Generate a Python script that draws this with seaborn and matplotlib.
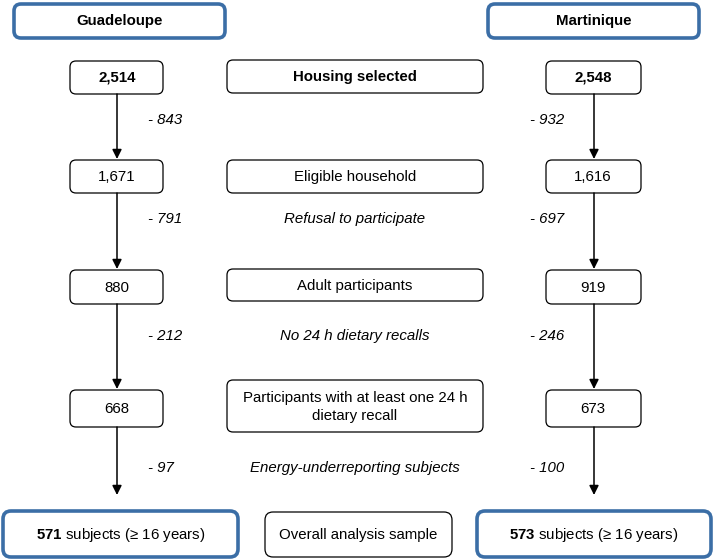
import matplotlib.pyplot as plt
import seaborn as sns
from matplotlib.patches import FancyBboxPatch

# Flowchart data
steps = ["Housing selected", "Eligible household", "Adult participants",
         "Participants with at least one 24 h\ndietary recall", "Overall analysis sample"]
guadeloupe = [2514, 1671, 880, 668, 571]
martinique = [2548, 1616, 919, 673, 573]
reasons = ["", "Refusal to participate", "No 24 h dietary recalls", "Energy-underreporting subjects"]
guadeloupe_out = [843, 791, 212, 97]
martinique_out = [932, 697, 246, 100]
regions = ["Guadeloupe", "Martinique"]

sns.set_theme(style="white")
plt.rcParams['font.family'] = ['Liberation Sans', 'DejaVu Sans']
plt.rcParams['text.color'] = 'black'
plt.rcParams['mathtext.fontset'] = 'custom'
plt.rcParams['mathtext.rm'] = 'Liberation Sans'
plt.rcParams['mathtext.bf'] = 'Liberation Sans:bold'

blue = "#3b6ea6"
fs = 10.8

fig = plt.figure(figsize=(7.13, 5.59), dpi=100)
ax = fig.add_axes([0, 0, 1, 1])
ax.set_xlim(0, 713)
ax.set_ylim(559, 0)
ax.axis("off")


def box(x0, y0, x1, y1, color="black", lw=0.9, pad=6):
    p = FancyBboxPatch((x0 + pad, y0 + pad), x1 - x0 - 2 * pad, y1 - y0 - 2 * pad,
                       boxstyle=f"round,pad={pad}", fc="white", ec=color, lw=lw)
    ax.add_patch(p)


# headers
for (x0, x1), name in zip([(14, 225), (488, 699)], regions):
    box(x0, 4, x1, 38, color=blue, lw=2.6, pad=7)
    ax.text((x0 + x1) / 2, 21.5, name, ha="center", va="center", fontsize=fs, fontweight="bold")

# row geometry (pixel positions of boxes)
rows_y = [(61, 94), (160, 193), (270, 304), (390, 427)]
mid_y = [(60, 93), (160, 193), (269, 301), (380, 432)]
gap_y = [120, 219, 336, 468]
lx, rx = 117, 594

for i in range(4):
    y0, y1 = rows_y[i]
    weight = "bold" if i == 0 else "normal"
    box(70, y0, 163, y1)
    ax.text(lx, (y0 + y1) / 2 + 0.5, f"{guadeloupe[i]:,}", ha="center", va="center",
            fontsize=fs, fontweight=weight)
    box(546, y0, 641, y1)
    ax.text(rx - 1, (y0 + y1) / 2 + 0.5, f"{martinique[i]:,}", ha="center", va="center",
            fontsize=fs, fontweight=weight)
    m0, m1 = mid_y[i]
    box(227, m0, 483, m1)
    ax.text(355, (m0 + m1) / 2 + 1, steps[i], ha="center", va="center",
            fontsize=fs, fontweight=weight, linespacing=1.3)

    # arrows down to next row
    nxt = rows_y[i + 1][0] - 1 if i < 3 else 495
    for x in (lx, rx):
        ax.annotate("", xy=(x, nxt), xytext=(x, y1),
                    arrowprops=dict(arrowstyle="-|>", color="black", lw=1.1,
                                    mutation_scale=14, shrinkA=0, shrinkB=0))
    gy = gap_y[i]
    ax.text(148, gy, f"- {guadeloupe_out[i]}", ha="left", va="center", fontsize=fs, style="italic")
    ax.text(564, gy, f"- {martinique_out[i]}", ha="right", va="center", fontsize=fs, style="italic")
    if reasons[i]:
        ax.text(355, gy, reasons[i], ha="center", va="center", fontsize=fs, style="italic")

# final sample row
for (x0, x1), n in zip([(3, 238), (477, 711)], [guadeloupe[4], martinique[4]]):
    box(x0, 511, x1, 557, color=blue, lw=2.6, pad=8)
    cx = (x0 + x1) / 2
    ax.text(cx, 534.5, f"$\\mathbf{{{n}}}$ subjects (≥ 16 years)", ha="center", va="center", fontsize=fs)
box(265, 512, 452, 557, pad=8)
ax.text(358, 534.5, steps[4], ha="center", va="center", fontsize=fs)

plt.savefig("out.png", dpi=100)
